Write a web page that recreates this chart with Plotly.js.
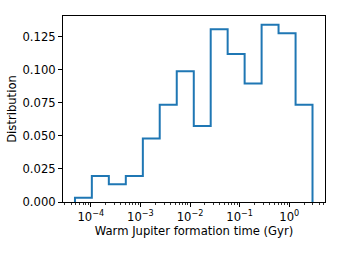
<!DOCTYPE html>
<html>
<head>
<meta charset="utf-8">
<script src="https://cdn.plot.ly/plotly-3.0.1.min.js"></script>
<style>html,body{margin:0;padding:0;background:#fff;}#chart{width:340px;height:255px;}</style>
</head>
<body>
<div id="chart"></div>
<script>
// Bin edges (Gyr)
const binEdges = [4.8e-5, 1.05e-4, 2.31e-4, 5.08e-4, 1.12e-3, 2.45e-3, 5.40e-3, 1.19e-2, 2.61e-2, 5.73e-2, 0.126, 0.277, 0.608, 1.34, 2.94];
// Normalised counts per bin
const distribution = [0.0033, 0.0197, 0.0134, 0.0197, 0.048, 0.0735, 0.099, 0.0574, 0.1307, 0.112, 0.0897, 0.134, 0.1276, 0.0735];
const xTickVals = [1e-4, 1e-3, 1e-2, 1e-1, 1];
const xTickText = ['10<sup>\u22124</sup>', '10<sup>\u22123</sup>', '10<sup>\u22122</sup>', '10<sup>\u22121</sup>', '10<sup>0</sup>'];
const yTickVals = [0, 0.025, 0.05, 0.075, 0.1, 0.125];

// step outline (matplotlib histtype='step')
const sx = [], sy = [];
sx.push(binEdges[0]); sy.push(0);
for (let i = 0; i < distribution.length; i++) {
  sx.push(binEdges[i]); sy.push(distribution[i]);
  sx.push(binEdges[i + 1]); sy.push(distribution[i]);
}
sx.push(binEdges[binEdges.length - 1]); sy.push(0);

// minor ticks on log axis
const minorVals = [];
for (let d = -5; d <= 0; d++) {
  for (let m = 2; m <= 9; m++) minorVals.push(m * Math.pow(10, d));
}

const font = {family: 'DejaVu Sans', size: 11.6, color: '#000'};
Plotly.newPlot('chart', [{
  x: sx, y: sy, type: 'scatter', mode: 'lines',
  line: {color: '#1f77b4', width: 2}, hoverinfo: 'skip'
}], {
  width: 340, height: 255,
  margin: {l: 63, r: 15, t: 16, b: 53},
  paper_bgcolor: '#fff', plot_bgcolor: '#fff',
  font: font,
  showlegend: false,
  xaxis: {
    type: 'log', range: [-4.56, 0.72],
    tickmode: 'array', tickvals: xTickVals, ticktext: xTickText,
    ticks: 'outside', ticklen: 4, tickwidth: 1, tickcolor: '#000',
    minor: {tickmode: 'array', tickvals: minorVals, ticks: 'outside', ticklen: 2, tickwidth: 0.8, tickcolor: '#000', showgrid: false},
    showline: true, linecolor: '#000', linewidth: 1, mirror: true,
    showgrid: false, zeroline: false,
    tickfont: font,
    title: {text: 'Warm Jupiter formation time (Gyr)', font: font, standoff: 0}
  },
  yaxis: {
    range: [0, 0.1407],
    tickmode: 'array', tickvals: yTickVals, tickformat: '.3f',
    ticks: 'outside', ticklen: 4, tickwidth: 1, tickcolor: '#000',
    showline: true, linecolor: '#000', linewidth: 1, mirror: true,
    showgrid: false, zeroline: false,
    tickfont: font,
    title: {text: 'Distribution', font: font, standoff: 3}
  }
}, {staticPlot: true, displayModeBar: false});
</script>
</body>
</html>
